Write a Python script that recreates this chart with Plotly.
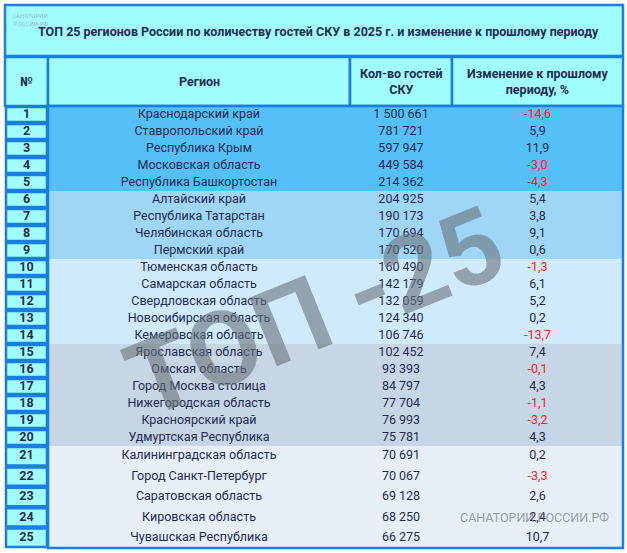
import plotly.graph_objects as go

title = "ТОП 25 регионов России по количеству гостей СКУ в 2025 г. и изменение к прошлому периоду"
headers = ["№", "Регион", "Кол-во гостей<br>СКУ", "Изменение к прошлому<br>периоду, %"]
regions = ["Краснодарский край", "Ставропольский край", "Республика Крым", "Московская область",
           "Республика Башкортостан", "Алтайский край", "Республика Татарстан", "Челябинская область",
           "Пермский край", "Тюменская область", "Самарская область", "Свердловская область",
           "Новосибирская область", "Кемеровская область", "Ярославская область", "Омская область",
           "Город Москва столица", "Нижегородская область", "Красноярский край", "Удмуртская Республика",
           "Калининградская область", "Город Санкт-Петербург", "Саратовская область", "Кировская область",
           "Чувашская Республика"]
guests = [1500661, 781721, 597947, 449584, 214362, 204925, 190173, 170694, 170520, 160490,
          142179, 132059, 124340, 106746, 102452, 93393, 84797, 77704, 76993, 75781,
          70691, 70067, 69128, 68250, 66275]
change = [-14.6, 5.9, 11.9, -3.0, -4.3, 5.4, 3.8, 9.1, 0.6, -1.3, 6.1, 5.2, 0.2, -13.7, 7.4,
          -0.1, 4.3, -1.1, -3.2, 4.3, 0.2, -3.3, 2.6, 2.4, 10.7]
groups = [(1, 5), (6, 9), (10, 14), (15, 20), (21, 25)]
group_colors = ["#55bff7", "#9fd5f5", "#cfeafb", "#c6d6e6", "#e7eef6"]

W, H = 627, 553
X0, X1, X2, X3, X4 = 5, 48, 350, 452, 623
T0, T1, HB = 5, 56, 106
def row_top(i):
    return HB + 17 * i if i < 20 else HB + 340 + 20.4 * (i - 20)
def row_h(i):
    return 17 if i < 20 else 20.4

shapes = []
def rect(x0, y0, x1, y1, fill, line="#1a7ee0", w=0):
    shapes.append(dict(type="rect", x0=x0, y0=y0, x1=x1, y1=y1, fillcolor=fill,
                       line=dict(color=line, width=w), layer="below"))

rect(X0, T0, X4, T1, "#a0feff", w=2.5)
for a, b in [(X0, X1), (X1, X2), (X2, X3), (X3, X4)]:
    rect(a, T1 + 1, b, HB, "#a0feff", w=2.5)
for gi, (a, b) in enumerate(groups):
    rect(X1, row_top(a - 1), X4, row_top(b - 1) + row_h(b - 1), group_colors[gi], w=0)
for i in range(25):
    rect(X0 + 1, row_top(i) + 1, X1 - 1, row_top(i) + row_h(i) - 1, "#a0feff", w=2.5)
rect(X1, HB, X4, H - 5, "rgba(0,0,0,0)", w=2.5)

def fmt(n):
    return f"{n:,}".replace(",", " ")

fig = go.Figure()
cy = [row_top(i) + row_h(i) / 2 for i in range(25)]
fnt = "Roboto"
navy = "#1f2c50"
fig.add_trace(go.Scatter(x=[(X0 + X1) / 2] * 25, y=cy, mode="text", text=[str(i + 1) for i in range(25)],
                         textfont=dict(family=fnt, size=12.5, color=navy, weight="bold")))
fig.add_trace(go.Scatter(x=[(X1 + X2) / 2] * 25, y=cy, mode="text", text=regions,
                         textfont=dict(family=fnt, size=12.5, color=navy)))
fig.add_trace(go.Scatter(x=[(X2 + X3) / 2] * 25, y=cy, mode="text", text=[fmt(g) for g in guests],
                         textfont=dict(family=fnt, size=12.5, color=navy)))
fig.add_trace(go.Scatter(x=[(X3 + X4) / 2] * 25, y=cy, mode="text",
                         text=[f"{c:.1f}".replace(".", ",") for c in change],
                         textfont=dict(family=fnt, size=12.5, color=["#ff1a1a" if c < 0 else navy for c in change])))

ann = [dict(x=(X0 + X4) / 2 + 4, y=(T0 + T1) / 2 + 1, text=title, showarrow=False,
            font=dict(family=fnt, size=12.5, color=navy, weight="bold"))]
for (a, b), h in zip([(X0, X1), (X1, X2), (X2, X3), (X3, X4)], headers):
    ann.append(dict(x=(a + b) / 2, y=(T1 + HB) / 2, text=h, showarrow=False,
                    font=dict(family=fnt, size=12.5, color=navy, weight="bold")))
ann.append(dict(x=315, y=312, text="ТОП -25", showarrow=False, textangle=-22,
                font=dict(family="Roboto", size=104, color="rgba(105,115,125,0.6)", weight="bold")))
ann.append(dict(x=534, y=517, text="САНАТОРИИ.РОССИИ.РФ", showarrow=False,
                font=dict(family=fnt, size=12.5, color="rgba(120,130,145,0.75)")))
ann.append(dict(x=30, y=10, text="САНАТОРИИ<br>-РОССИИ.РФ", showarrow=False, yanchor="top",
                font=dict(family=fnt, size=6, color="rgba(150,160,170,0.8)")))

fig.update_layout(width=W, height=H, margin=dict(l=0, r=0, t=0, b=0), showlegend=False,
                  plot_bgcolor="white", paper_bgcolor="white", shapes=shapes, annotations=ann,
                  xaxis=dict(range=[0, W], visible=False, fixedrange=True),
                  yaxis=dict(range=[H, 0], visible=False, fixedrange=True))
fig.write_html("out.html", config={"displayModeBar": False},
               post_script="document.body.style.margin='0';document.body.style.overflow='hidden';")
